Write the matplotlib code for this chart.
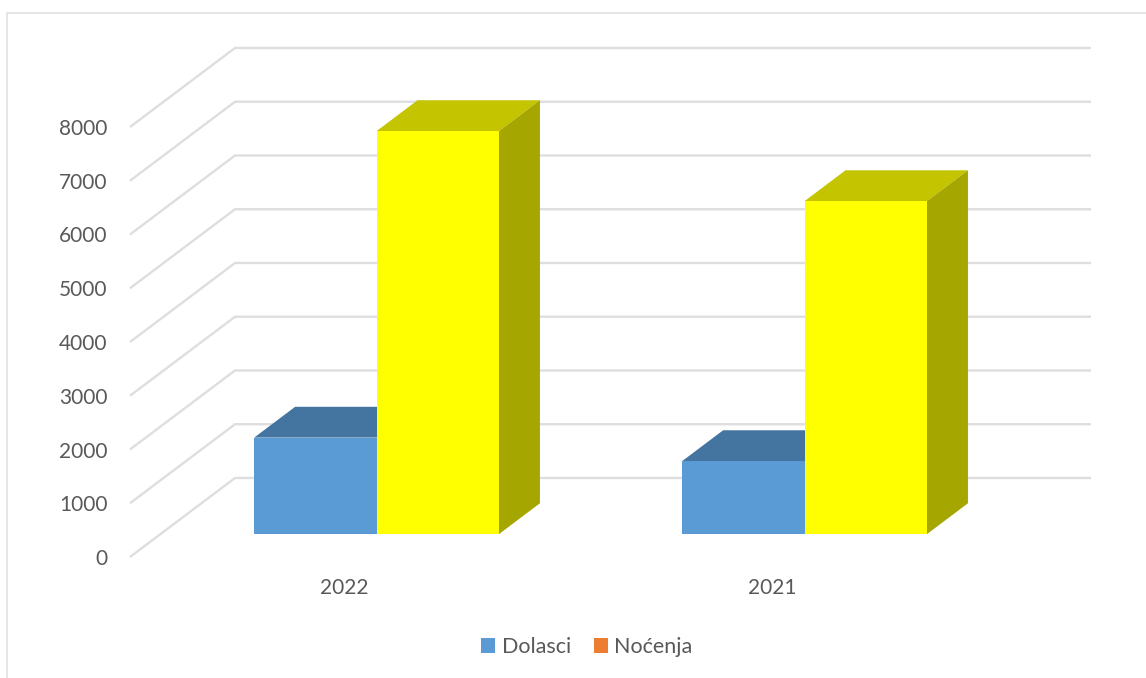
import matplotlib
matplotlib.use('Agg')
import matplotlib.pyplot as plt
from matplotlib.lines import Line2D
from matplotlib.patches import Patch, Polygon

plt.rcParams['font.family'] = ['Lato', 'DejaVu Sans']

years = ['2022', '2021']
dolasci = [1795, 1358]
nocenja = [7498, 6195]
ticks = [0, 1000, 2000, 3000, 4000, 5000, 6000, 7000, 8000]

# koso pomicanje za 3D izgled (zid iza grafa)
depth_x = 105 / 428
depth_y = 1470
bar_start = 0.29
bar_depth = 0.39
bar_w = 0.286
shift = 0.005

grid_c = '#dedede'
text_c = '#595959'


def project(x, val, d):
    return x + d * depth_x, val + d * depth_y


def bar3d(ax, left, val, front, top, side=None):
    a = bar_start
    b = bar_start + bar_depth
    x0, x1 = left, left + bar_w
    p = [project(x0, 0, a), project(x1, 0, a), project(x1, val, a), project(x0, val, a)]
    t = [project(x0, val, a), project(x1, val, a), project(x1, val, b), project(x0, val, b)]
    ax.add_patch(Polygon(t, closed=True, fc=top, ec='none', clip_on=False, zorder=3))
    if side:
        s = [project(x1, 0, a), project(x1, 0, b), project(x1, val, b), project(x1, val, a)]
        ax.add_patch(Polygon(s, closed=True, fc=side, ec='none', clip_on=False, zorder=3))
    ax.add_patch(Polygon(p, closed=True, fc=front, ec='none', clip_on=False, zorder=3))


fig = plt.figure(figsize=(11.46, 6.78), dpi=100)
ax = fig.add_axes([130 / 1146, 121 / 678, 856 / 1146, 430 / 678])
ax.set_xlim(0, 2)
ax.set_ylim(0, 8000)
for s in ax.spines.values():
    s.set_visible(False)

# zid i pod
for t in ticks:
    bx, by = project(0, t, 1)
    ex, ey = project(2, t, 1)
    ax.plot([0, bx, ex], [t, by, ey], color=grid_c, lw=1.7, clip_on=False,
            solid_joinstyle='miter', solid_capstyle='butt', zorder=1)

for i in range(len(years)):
    mid = i + 0.5 + shift
    bar3d(ax, mid - bar_w, dolasci[i], '#5b9bd5', '#4474a0')
    bar3d(ax, mid, nocenja[i], '#ffff00', '#c4c400', '#a6a600')

ax.set_yticks(ticks)
ax.set_yticklabels([str(t) for t in ticks])
ax.set_xticks([0.5, 1.5])
ax.set_xticklabels(years)
ax.tick_params(axis='y', length=0, pad=16, labelsize=15, labelcolor=text_c)
ax.tick_params(axis='x', length=0, pad=15, labelsize=15, labelcolor=text_c)

handles = [Patch(fc='#5b9bd5', ec='none'), Patch(fc='#ed7d31', ec='none')]
fig.legend(handles, ['Dolasci', 'Noćenja'], loc='center', ncols=2,
           bbox_to_anchor=(587 / 1146, 1 - 647 / 678), frameon=False, fontsize=15.5,
           labelcolor=text_c, handlelength=0.65, handleheight=0.65,
           handletextpad=0.3, columnspacing=1.05, borderpad=0, borderaxespad=0)

# okvir grafa, desno i dolje je odrezan
fig.add_artist(Line2D([7 / 1146, 7 / 1146, 1], [0, 1 - 12.5 / 678, 1 - 12.5 / 678],
                      color=grid_c, lw=1.1, transform=fig.transFigure))

fig.savefig('out.png', dpi=100)
